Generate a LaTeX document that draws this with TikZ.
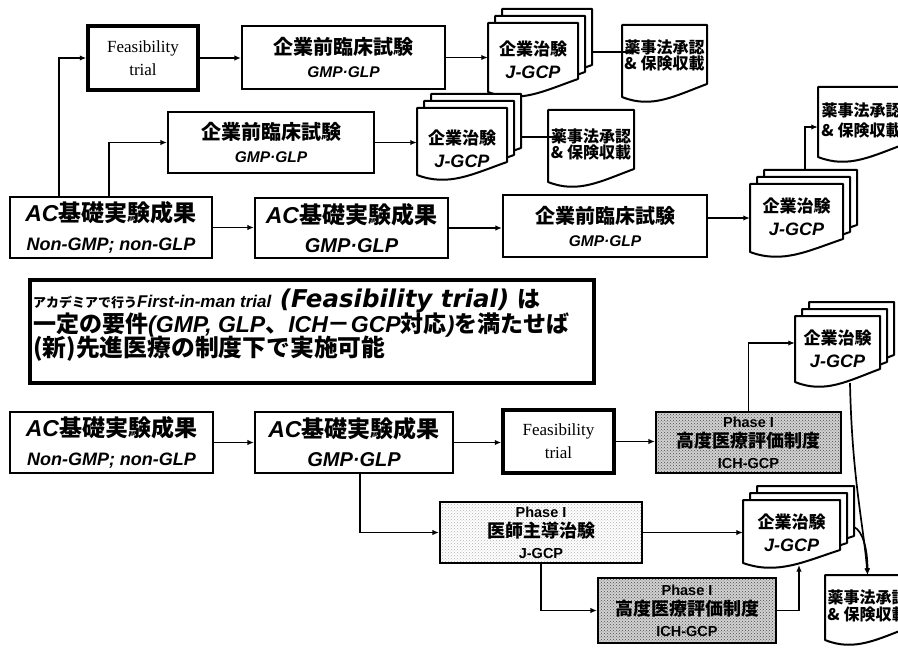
\documentclass[tikz,border=0pt]{standalone}
\usepackage{fontspec}
\usepackage{graphicx}
\setmainfont{Liberation Serif}
\newfontfamily\jp{Noto Sans CJK JP}
\newfontfamily\lat{Liberation Sans}
\newfontfamily\dv{DejaVu Sans}
\usetikzlibrary{arrows.meta,patterns}

\newcommand\docshape[4]{%
  \pgfmathsetmacro\dW{(#3)-(#1)}%
  \filldraw[docline] ({#1},{#2}) -- ({#3},{#2}) -- ({#3},{(#4)-13})
    .. controls ({(#1)+0.62*\dW},{(#4)-1}) and ({(#1)+0.35*\dW},{(#4)+12}) .. ({#1},{#4}) -- cycle;}
\newcommand\docstack[4]{%
  \docshape{(#1)+14}{(#2)-14}{(#3)+14}{(#4)-14}%
  \docshape{(#1)+7}{(#2)-7}{(#3)+7}{(#4)-7}%
  \docshape{#1}{#2}{#3}{#4}}

\newcommand\zzP{\jp\bfseries\fontsize{20}{23}\selectfont}
\newcommand\zzPL{\lat\bfseries\itshape\fontsize{15.5}{23}\selectfont}
\newcommand\zzAC{\jp\bfseries\fontsize{23}{29}\selectfont}
\newcommand\zzACL{\lat\bfseries\itshape\fontsize{18}{29}\selectfont}
\newcommand\zzS{\jp\bfseries\fontsize{17}{23}\selectfont}
\newcommand\zzSL{\lat\bfseries\itshape\fontsize{18}{23}\selectfont}
\newcommand\zzH{\jp\bfseries\fontsize{18}{20.5}\selectfont}
\newcommand\zzHL{\lat\bfseries\fontsize{14.5}{20.5}\selectfont}

\begin{document}
\begin{tikzpicture}[x=1pt,y=-1pt,
  box/.style={draw, line width=2.2pt, fill=white, inner sep=0pt, align=center},
  fbox/.style={box, line width=3.5pt, font=\fontsize{17}{23}\selectfont},
  hbox/.style 2 args={box, preaction={fill=#2}, pattern=crosshatch dots, pattern color=#1},
  docline/.style={draw, line width=2pt, fill=white, line join=round},
  dtext/.style={inner sep=0pt, align=center},
  conn/.style={line width=1.7pt, -{Latex[length=6.5pt,width=5.5pt]}},
]
\useasboundingbox (0,0) rectangle (898,650);
\fill[white] (0,0) rectangle (898,650);
\clip (0,0) rectangle (898,650);

% ---------- documents ----------
\docstack{488}{23}{578}{92}
\docshape{622}{25}{707}{97}
\docstack{417}{108}{507}{175}
\docshape{548}{110}{634}{182}
\docstack{750}{184}{843}{252}
\docshape{818}{87}{905}{157}
\docstack{795}{316}{880}{382}
\docstack{743}{500}{840}{563}
\docshape{825}{575}{910}{640}

\node[dtext, minimum width=90pt, minimum height=74pt, font=\zzS] (S1) at (533,60) {企業治験\\{\zzSL J-GCP}};
\node[dtext, minimum width=90pt, minimum height=81pt, font=\zzS] (S2) at (462,148.5) {企業治験\\{\zzSL J-GCP}};
\node[dtext, minimum width=93pt, minimum height=65pt, font=\zzS] (S3) at (796.5,216.5) {企業治験\\{\zzSL J-GCP}};
\node[dtext, minimum width=85pt, minimum height=66pt, font=\zzS] (S4) at (837.5,349) {企業治験\\{\zzSL J-GCP}};
\node[dtext, minimum width=97pt, minimum height=66pt, font=\zzS] (S5) at (791.5,533) {企業治験\\{\zzSL J-GCP}};

\node[dtext, minimum width=85pt, minimum height=61pt, font=\jp\bfseries\fontsize{16}{15.5}\selectfont] (D1) at (664.5,55.5) {薬事法承認\\\& 保険収載};
\node[dtext, minimum width=86pt, minimum height=68pt, font=\jp\bfseries\fontsize{16}{16}\selectfont] (D2) at (591,144) {薬事法承認\\\& 保険収載};
\node[dtext, minimum width=87pt, minimum height=66pt, font=\jp\bfseries\fontsize{16}{20}\selectfont] (D3) at (861.5,120) {薬事法承認\\\& 保険収載};
\node[dtext, minimum width=85pt, minimum height=61pt, font=\jp\bfseries\fontsize{16}{17}\selectfont] (D4) at (867.5,605.5) {薬事法承認\\\& 保険収載};

% ---------- boxes ----------
\node[fbox, minimum width=110pt, minimum height=64pt] (F1) at (143,58) {Feasibility\\trial};
\node[box, minimum width=203pt, minimum height=63pt, font=\zzP] (P1) at (343.5,57.5) {企業前臨床試験\\{\zzPL GMP·GLP}};
\node[box, minimum width=206pt, minimum height=61pt, font=\zzP] (P2) at (271,142.5) {企業前臨床試験\\{\zzPL GMP·GLP}};
\node[box, minimum width=202pt, minimum height=61pt, font=\zzAC] (AC1) at (111,227.5) {{\lat\itshape AC}基礎実験成果\\{\zzACL Non-GMP; non-GLP}};
\node[box, minimum width=193pt, minimum height=60pt, font=\zzAC] (AC2) at (351.5,228) {{\lat\itshape AC}基礎実験成果\\{\zzACL\fontsize{20}{29}\selectfont GMP·GLP}};
\node[box, minimum width=204pt, minimum height=62pt, font=\zzP] (P3) at (605,226) {企業前臨床試験\\{\zzPL GMP·GLP}};

% text box
\node[box, line width=3.2pt, minimum width=564pt, minimum height=103pt] (TB) at (312,331.5) {};
\node[anchor=base west, inner sep=0pt] (TL1) at (33,307)
  {{\jp\bfseries\fontsize{13}{16}\selectfont アカデミアで行う}{\lat\bfseries\itshape\fontsize{17}{20}\selectfont First-in-man trial}{\dv\bfseries\itshape\fontsize{24.5}{25}\selectfont\ (Feasibility trial)\ }{\jp\bfseries\fontsize{23}{25}\selectfont は}};
\node[anchor=base west, inner sep=0pt, font=\jp\bfseries\fontsize{23}{25}\selectfont] (TL2) at (33,332)
  {一定の要件{\lat\itshape (GMP, GLP}、{\lat\itshape ICH}－{\lat\itshape GCP}対応{\lat\itshape )}を満たせば};
\node[anchor=base west, inner sep=0pt, font=\jp\bfseries\fontsize{23.8}{25}\selectfont] (TL3) at (33,356)
  {(新)先進医療の制度下で実施可能};

% bottom
\node[box, minimum width=203pt, minimum height=61pt, font=\zzAC] (AC3) at (111.5,442.5) {{\lat\itshape AC}基礎実験成果\\{\zzACL Non-GMP; non-GLP}};
\node[box, minimum width=198pt, minimum height=61pt, font=\zzAC] (AC4) at (354,442.5) {{\lat\itshape AC}基礎実験成果\\{\zzACL\fontsize{20}{29}\selectfont GMP·GLP}};
\node[fbox, minimum width=111pt, minimum height=63pt] (F2) at (558.5,441.5) {Feasibility\\trial};
\node[hbox={black!70}{black!18}, minimum width=185pt, minimum height=61pt, font=\zzH] (H1) at (748.5,442.5) {{\zzHL Phase I}\\高度医療評価制度\\{\zzHL ICH-GCP}};
\node[hbox={black!30}{white}, minimum width=202pt, minimum height=61pt, font=\zzH] (I1) at (541,532.5) {{\zzHL Phase I}\\医師主導治験\\{\zzHL J-GCP}};
\node[hbox={black!70}{black!18}, minimum width=178pt, minimum height=65pt, font=\zzH] (H2) at (687,610.5) {{\zzHL Phase I}\\高度医療評価制度\\{\zzHL ICH-GCP}};

% ---------- connectors ----------
\draw[conn] ([xshift=50pt]AC1.north west) |- (F1.west);
\draw[conn] ([xshift=100pt]AC1.north west) |- (P2.west);
\draw[conn] (F1.east) -- (F1.east -| P1.west);
\draw[conn] (P1.east) -- (P1.east -| S1.west);
\draw[conn] ([xshift=14pt,yshift=8pt]S1.east) -- ([xshift=14pt,yshift=8pt]S1.east -| D1.west);
\draw[conn] (P2.east) -- (P2.east -| S2.west);
\draw[conn] ([xshift=14pt,yshift=11.5pt]S2.east) -- ([xshift=14pt,yshift=11.5pt]S2.east -| D2.west);
\draw[conn] (AC1.east) -- (AC1.east -| AC2.west);
\draw[conn] (AC2.east) -- (AC2.east -| P3.west);
\draw[conn] ([yshift=8pt]P3.east) -- ([yshift=8pt]P3.east -| S3.west);
\draw[conn] ([xshift=8.5pt,yshift=14pt]S3.north) |- ([yshift=-7pt]D3.west);

\draw[conn] (AC3.east) -- (AC3.east -| AC4.west);
\draw[conn] (AC4.east) -- (AC4.east -| F2.west);
\draw[conn] (F2.east) -- (F2.east -| H1.west);
\draw[conn] (H1.north) |- ([yshift=6pt]S4.west);
\draw[conn] ([xshift=6pt]AC4.south) |- (I1.west);
\draw[conn] (I1.east) -- (I1.east -| S5.west);
\draw[conn] (I1.south) |- (H2.west);
\draw[conn] (H2.east) -| ([xshift=7.5pt,yshift=-32pt]S5.center);
\draw[conn] ([xshift=12.5pt,yshift=-34pt]S4.center) .. controls +(2,95) and +(-4,-50) .. (D4.north);
\draw[conn] ([xshift=62.5pt,yshift=6pt]S5.center) .. controls +(9,4) and +(0,-25) .. (D4.north);
\end{tikzpicture}
\end{document}
